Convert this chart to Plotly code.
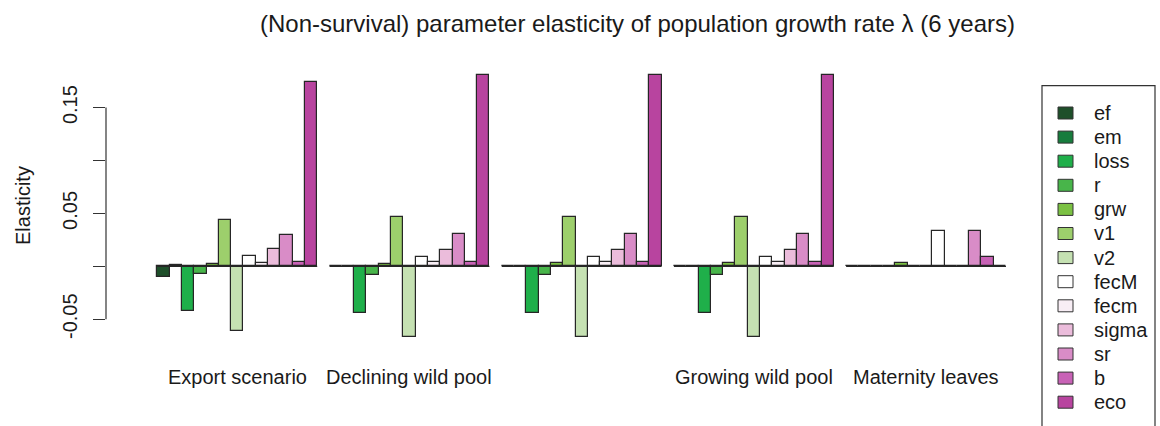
import plotly.graph_objects as go

# Scenarios (the third one carries no label on the axis)
scenarios = ["Export scenario", "Declining wild pool", "", "Growing wild pool", "Maternity leaves"]

# Parameter names, in bar order within each scenario
params = ["ef", "em", "loss", "r", "grw", "v1", "v2", "fecM", "fecm", "sigma", "sr", "b", "eco"]

# Elasticity of lambda for each parameter, one value per scenario
ef    = [-0.0104, 0.0, 0.0, 0.0, 0.0]
em    = [0.0008, 0.0, 0.0, 0.0, 0.0]
loss  = [-0.0422, -0.0444, -0.0440, -0.0440, 0.0]
r     = [-0.0075, -0.0082, -0.0082, -0.0080, 0.0]
grw   = [0.0020, 0.0020, 0.0030, 0.0035, 0.0030]
v1    = [0.0438, 0.0463, 0.0463, 0.0463, 0.0]
v2    = [-0.0611, -0.0665, -0.0665, -0.0665, 0.0]
fecM  = [0.0094, 0.0085, 0.0088, 0.0088, 0.0336]
fecm  = [0.0030, 0.0044, 0.0044, 0.0044, 0.0]
sigma = [0.0167, 0.0157, 0.0157, 0.0157, 0.0]
sr    = [0.0299, 0.0305, 0.0305, 0.0305, 0.0336]
b     = [0.0038, 0.0040, 0.0040, 0.0040, 0.0091]
eco   = [0.1745, 0.1810, 0.1810, 0.1810, 0.0]

series = [ef, em, loss, r, grw, v1, v2, fecM, fecm, sigma, sr, b, eco]

colors = ["#1e4f2a", "#177c3d", "#1faf4a", "#48b54a", "#7bc143", "#9dcf6c",
          "#c5e1b2", "#ffffff", "#f8eef5", "#ebbcdb", "#d98cc7", "#c862b6", "#b8449f"]

yticks = [-0.05, 0.0, 0.05, 0.10, 0.15]
yticklabels = ["-0.05", "", "0.05", "", "0.15"]

FONT = "Liberation Sans, Arial, sans-serif"
INK = "#1a1a1a"
W, H = 1160, 426
ML, MR, MT, MB = 106, 140, 60, 76
PW, PH = W - ML - MR, H - MT - MB


def px_x(px):
    return (px - ML) / PW


def px_y(py):
    return (H - MB - py) / PH


n_par = len(params)
gap = 1  # one bar-width of space before each scenario block
group_start = [gap + g * (n_par + gap) for g in range(len(scenarios))]

fig = go.Figure()

for i, (name, vals, col) in enumerate(zip(params, series, colors)):
    xs = [s + i + 0.5 for s in group_start]
    fig.add_trace(go.Bar(
        x=xs, y=vals, width=1, name=name,
        marker=dict(color=col, line=dict(color="#262626", width=1.2)),
        showlegend=False,
    ))

# zero-height bars leave their borders as a baseline under each block
base_x, base_y = [], []
for s in group_start:
    base_x += [s, s + n_par, None]
    base_y += [0, 0, None]
fig.add_trace(go.Scatter(x=base_x, y=base_y, mode="lines",
                         line=dict(color="#262626", width=1.2),
                         showlegend=False, hoverinfo="skip"))

annotations = []
# scenario labels under each block
for s, lab in zip(group_start, scenarios):
    if lab:
        annotations.append(dict(x=s + n_par / 2, y=px_y(377), xref="x", yref="paper",
                                text=lab, showarrow=False, xanchor="center", yanchor="middle",
                                font=dict(family=FONT, size=20, color=INK)))

annotations.append(dict(x=px_x(637), y=px_y(23), xref="paper", yref="paper",
                        text="(Non-survival) parameter elasticity of population growth rate λ (6 years)",
                        showarrow=False, xanchor="center", yanchor="middle",
                        font=dict(family=FONT, size=24, color=INK)))
annotations.append(dict(x=px_x(23), y=px_y(206), xref="paper", yref="paper",
                        text="Elasticity", textangle=-90, showarrow=False,
                        xanchor="center", yanchor="middle",
                        font=dict(family=FONT, size=20, color=INK)))

shapes = []
# y axis line spanning the labelled tick range only
shapes.append(dict(type="line", xref="paper", yref="y", x0=0, x1=0,
                   y0=yticks[0], y1=yticks[-1], line=dict(color="#333333", width=1.2)))

# legend box with swatches
shapes.append(dict(type="rect", xref="paper", yref="paper",
                   x0=px_x(1042), x1=px_x(1155), y0=px_y(440), y1=px_y(85.7),
                   line=dict(color="#333333", width=1.2), fillcolor="rgba(0,0,0,0)"))
row_h = 24.1
for i, (name, col) in enumerate(zip(params, colors)):
    cy = 113 + i * row_h
    shapes.append(dict(type="rect", xref="paper", yref="paper",
                       x0=px_x(1058), x1=px_x(1073), y0=px_y(cy + 6), y1=px_y(cy - 6),
                       line=dict(color="#333333", width=1), fillcolor=col))
    annotations.append(dict(x=px_x(1092), y=px_y(cy), xref="paper", yref="paper",
                            text=name, showarrow=False, xanchor="left", yanchor="middle",
                            font=dict(family=FONT, size=20, color=INK)))

x_per_px = 12.3
x_origin_px = 145
fig.update_layout(
    width=W, height=H,
    margin=dict(l=ML, r=MR, t=MT, b=MB, autoexpand=False),
    paper_bgcolor="white", plot_bgcolor="white",
    barmode="overlay", bargap=0,
    font=dict(family=FONT, size=20, color=INK),
    xaxis=dict(visible=False,
               range=[(ML - x_origin_px) / x_per_px, (W - MR - x_origin_px) / x_per_px]),
    yaxis=dict(range=[-0.0791, 0.1950], tickvals=yticks, ticktext=yticklabels,
               ticks="outside", ticklen=12, tickwidth=1.2, tickcolor="#333333",
               tickangle=-90, ticklabelstandoff=8, showline=False, showgrid=False,
               zeroline=False, tickfont=dict(family=FONT, size=20, color=INK)),
    shapes=shapes,
    annotations=annotations,
    showlegend=False,
)

fig.write_html("out.html")
